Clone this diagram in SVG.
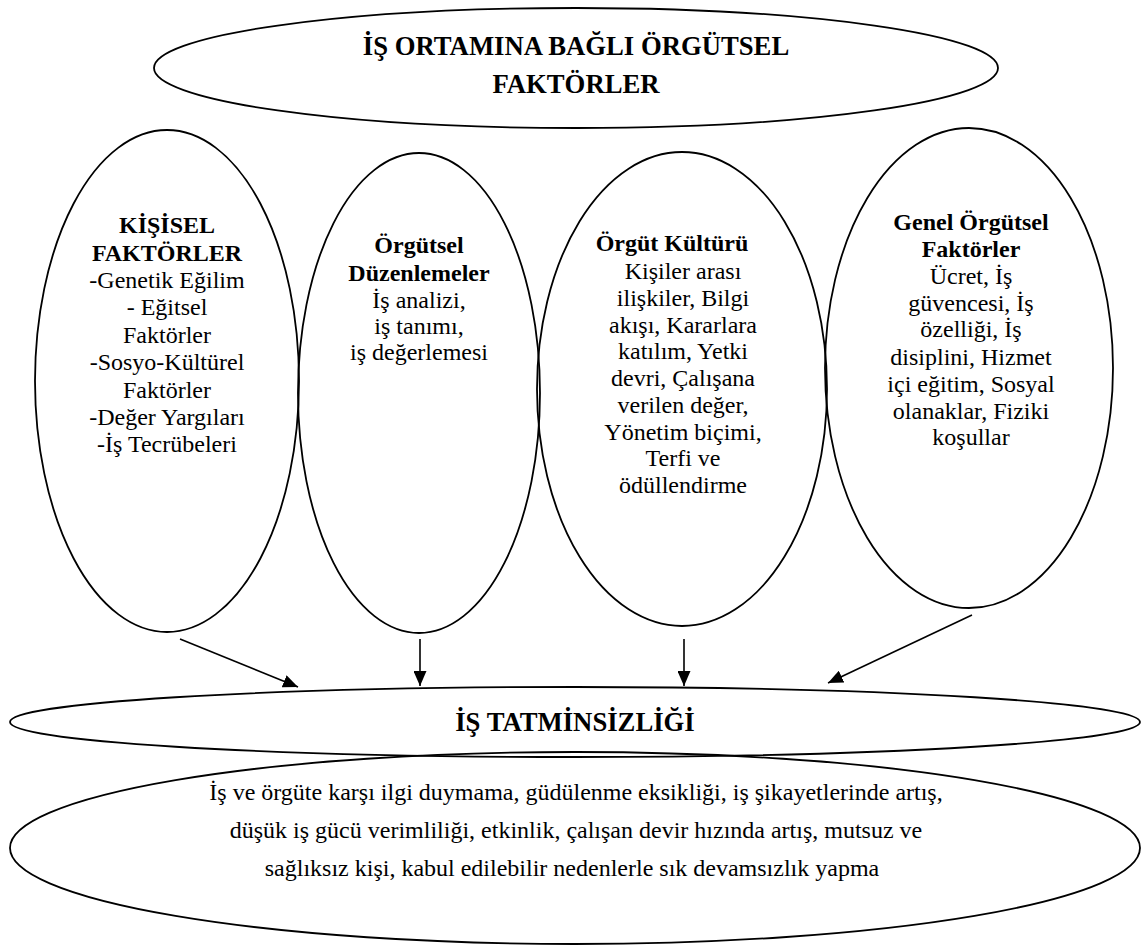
<svg xmlns="http://www.w3.org/2000/svg" width="1148" height="947" viewBox="0 0 1148 947">
  <style>
    .shape { fill: none; stroke: #000; stroke-width: 1.8; }
    .link { fill: none; stroke: #000; stroke-width: 1.6; }
    text { font-family: "Liberation Serif", "Times New Roman", serif; fill: #000; text-anchor: middle; }
    .title { font-size: 26.7px; font-weight: bold; }
    .head { font-size: 24px; font-weight: bold; }
    .body { font-size: 24px; }
  </style>
  <defs>
    <marker id="arrowhead" viewBox="0 0 15 13" refX="15" refY="6.5" markerWidth="15" markerHeight="13" markerUnits="userSpaceOnUse" orient="auto">
      <path d="M0,0 L15,6.5 L0,13 Z" fill="#000"/>
    </marker>
  </defs>

  <rect width="1148" height="947" fill="#fff"/>

  <!-- Top: organisational factors of the work environment -->
  <g id="node-ortam">
    <ellipse class="shape" cx="576" cy="68" rx="422" ry="60"/>
    <text class="title" x="576" y="55">İŞ ORTAMINA BAĞLI ÖRGÜTSEL</text>
    <text class="title" x="576" y="93">FAKTÖRLER</text>
  </g>

  <!-- Personal factors -->
  <g id="node-kisisel">
    <ellipse class="shape" cx="167" cy="381" rx="132" ry="251"/>
    <text class="head" x="167" y="233">KİŞİSEL</text>
    <text class="head" x="167" y="261">FAKTÖRLER</text>
    <text class="body" x="167" y="288">-Genetik Eğilim</text>
    <text class="body" x="167" y="315">- Eğitsel</text>
    <text class="body" x="167" y="343">Faktörler</text>
    <text class="body" x="167" y="370">-Sosyo-Kültürel</text>
    <text class="body" x="167" y="398">Faktörler</text>
    <text class="body" x="167" y="425">-Değer Yargıları</text>
    <text class="body" x="167" y="452">-İş Tecrübeleri</text>
  </g>

  <!-- Organisational arrangements -->
  <g id="node-duzenlemeler">
    <ellipse class="shape" cx="419" cy="393" rx="121" ry="240"/>
    <text class="head" x="419" y="253">Örgütsel</text>
    <text class="head" x="419" y="281">Düzenlemeler</text>
    <text class="body" x="419" y="308">İş analizi,</text>
    <text class="body" x="419" y="334">iş tanımı,</text>
    <text class="body" x="419" y="360">iş değerlemesi</text>
  </g>

  <!-- Organisational culture -->
  <g id="node-kultur">
    <ellipse class="shape" cx="682" cy="389" rx="145" ry="237"/>
    <text class="head" x="672" y="251">Örgüt Kültürü</text>
    <text class="body" x="683" y="279">Kişiler arası</text>
    <text class="body" x="683" y="306">ilişkiler, Bilgi</text>
    <text class="body" x="683" y="333">akışı, Kararlara</text>
    <text class="body" x="683" y="359">katılım, Yetki</text>
    <text class="body" x="683" y="386">devri, Çalışana</text>
    <text class="body" x="683" y="413">verilen değer,</text>
    <text class="body" x="683" y="440">Yönetim biçimi,</text>
    <text class="body" x="683" y="466">Terfi ve</text>
    <text class="body" x="683" y="493">ödüllendirme</text>
  </g>

  <!-- General organisational factors -->
  <g id="node-genel">
    <ellipse class="shape" cx="969" cy="368" rx="144" ry="240"/>
    <text class="head" x="971" y="230">Genel Örgütsel</text>
    <text class="head" x="971" y="257">Faktörler</text>
    <text class="body" x="971" y="284">Ücret, İş</text>
    <text class="body" x="971" y="311">güvencesi, İş</text>
    <text class="body" x="971" y="337">özelliği, İş</text>
    <text class="body" x="971" y="365">disiplini, Hizmet</text>
    <text class="body" x="971" y="392">içi eğitim, Sosyal</text>
    <text class="body" x="971" y="419">olanaklar, Fiziki</text>
    <text class="body" x="971" y="445">koşullar</text>
  </g>

  <!-- Job dissatisfaction -->
  <g id="node-tatminsizlik">
    <ellipse class="shape" cx="575" cy="722" rx="565" ry="35"/>
    <text class="title" x="575" y="731">İŞ TATMİNSİZLİĞİ</text>
  </g>

  <!-- Consequences -->
  <g id="node-sonuclar">
    <ellipse class="shape" cx="575" cy="848" rx="565" ry="96"/>
    <text class="body" x="576" y="800">İş ve örgüte karşı ilgi duymama, güdülenme eksikliği, iş şikayetlerinde artış,</text>
    <text class="body" x="576" y="838">düşük iş gücü verimliliği, etkinlik, çalışan devir hızında artış, mutsuz ve</text>
    <text class="body" x="572" y="876">sağlıksız kişi, kabul edilebilir nedenlerle sık devamsızlık yapma</text>
  </g>

  <!-- Connectors -->
  <g id="connectors">
    <line class="link" x1="180" y1="639" x2="298" y2="687" marker-end="url(#arrowhead)"/>
    <line class="link" x1="420" y1="639" x2="420" y2="686" marker-end="url(#arrowhead)"/>
    <line class="link" x1="684" y1="639" x2="684" y2="686" marker-end="url(#arrowhead)"/>
    <line class="link" x1="972" y1="615" x2="828" y2="683" marker-end="url(#arrowhead)"/>
  </g>
</svg>
